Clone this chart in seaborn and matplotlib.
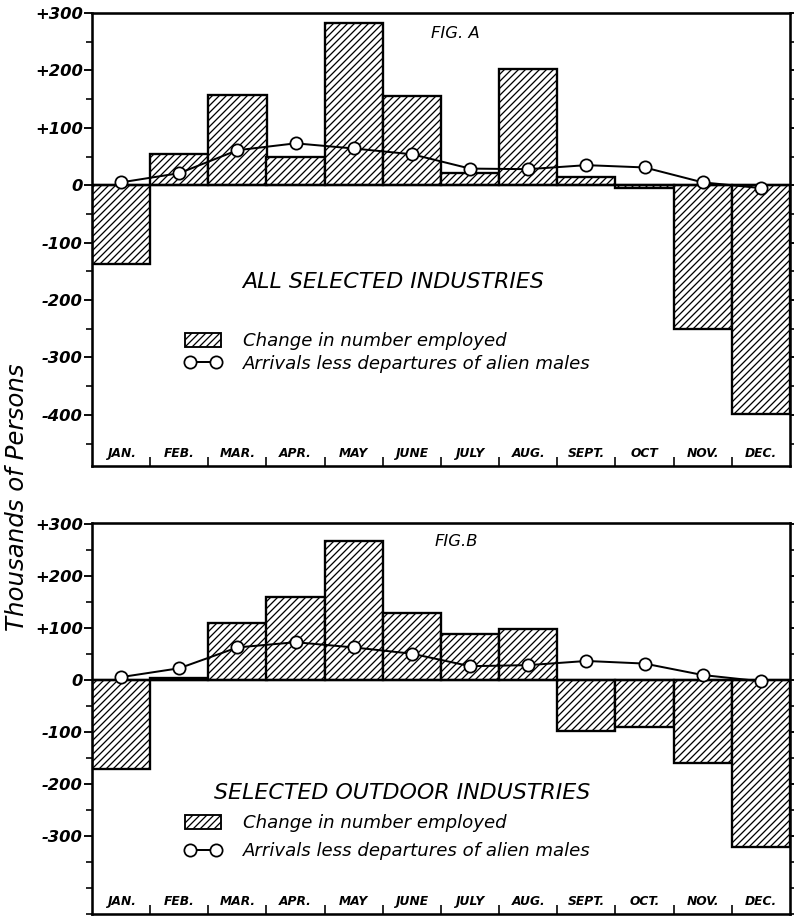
import numpy as np
import pandas as pd
import matplotlib
matplotlib.use("Agg")
import matplotlib.pyplot as plt
import seaborn as sns
from matplotlib.patches import Patch
from matplotlib.lines import Line2D

# ---------------- data ----------------
months_a = ["JAN.", "FEB.", "MAR.", "APR.", "MAY", "JUNE", "JULY", "AUG.", "SEPT.", "OCT", "NOV.", "DEC."]
months_b = ["JAN.", "FEB.", "MAR.", "APR.", "MAY", "JUNE", "JULY", "AUG.", "SEPT.", "OCT.", "NOV.", "DEC."]

employed_a = [-138, 54, 158, 50, 282, 155, 22, 202, 15, -5, -250, -398]
arrivals_a = [5, 21, 61, 73, 64, 54, 29, 28, 35, 31, 5, -5]

employed_b = [-171, 3, 109, 159, 267, 129, 88, 98, -98, -90, -160, -322]
arrivals_b = [5, 22, 62, 72, 62, 50, 26, 28, 36, 31, 9, -3]

yticks_a = [300, 200, 100, 0, -100, -200, -300, -400]
ylabels_a = ["+300", "+200", "+100", "0", "-100", "-200", "-300", "-400"]
yticks_b = [300, 200, 100, 0, -100, -200, -300]
ylabels_b = ["+300", "+200", "+100", "0", "-100", "-200", "-300"]

titles = ["ALL SELECTED INDUSTRIES", "SELECTED OUTDOOR INDUSTRIES"]
figs = ["FIG. A", "FIG.B"]
legend_labels = ["Change in number employed", "Arrivals less departures of alien males"]
ylabel = "Thousands of Persons"

# ---------------- style ----------------
DPI = 84
W, H = 795, 918
sns.set_style("white")
plt.rcParams["font.family"] = ["DejaVu Sans"]
plt.rcParams["hatch.linewidth"] = 1.1
plt.rcParams["hatch.color"] = "black"
for k in ["text.color", "axes.labelcolor", "xtick.color", "ytick.color", "axes.edgecolor"]:
    plt.rcParams[k] = "black"

fig = plt.figure(figsize=(W / DPI, H / DPI), dpi=DPI)


def fx(px):
    return px / W


def fy(py):
    return 1 - py / H


def make_axes(left, right, top, bottom):
    return fig.add_axes([fx(left), fy(bottom), fx(right) - fx(left), (bottom - top) / H])


ax_a = make_axes(92, 790, 13, 466)
ax_b = make_axes(92, 790, 523, 914)

panels = [
    (ax_a, months_a, employed_a, arrivals_a, yticks_a, ylabels_a, (-489, 299)),
    (ax_b, months_b, employed_b, arrivals_b, yticks_b, ylabels_b, (-372, 301)),
]

for ax, months, emp, arr, yt, yl, ylim in panels:
    df = pd.DataFrame({"month": months, "employed": emp, "arrivals": arr, "pos": np.arange(12)})
    sns.barplot(data=df, x="month", y="employed", color="white", edgecolor="black",
                linewidth=2.0, width=1.0, saturation=1, ax=ax, zorder=2)
    for p in ax.patches:
        p.set_hatch("////")
    ax.axhline(0, color="black", lw=2.0, zorder=3)
    sns.lineplot(data=df, x="pos", y="arrivals", color="black", lw=1.7, marker="o",
                 markersize=10.5, markerfacecolor="white", markeredgecolor="black",
                 markeredgewidth=1.5, ax=ax, zorder=5)
    ax.set_xlim(-0.5, 11.5)
    ax.set_ylim(*ylim)
    ax.set_xlabel("")
    ax.set_ylabel("")
    # y ticks
    ax.set_yticks(yt, labels=yl)
    ax.set_yticks(np.arange(-450, 301, 50), minor=True)
    ax.tick_params(axis="y", which="major", direction="out", length=7, width=1.6,
                   labelsize=14, pad=1, right=True, left=True)
    ax.tick_params(axis="y", which="minor", direction="out", length=5, width=1.4,
                   right=True, left=True)
    for lab in ax.get_yticklabels():
        lab.set_fontstyle("italic")
        lab.set_fontweight("bold")
    # month labels inside at bottom, separators between
    ax.set_xticks(np.arange(0.5, 11, 1.0))
    ax.set_xticklabels([])
    ax.set_xticks(np.arange(12), minor=True)
    ax.set_xticklabels(months, minor=True)
    ax.tick_params(axis="x", which="major", direction="in", length=8, width=1.4, bottom=True)
    ax.tick_params(axis="x", which="minor", length=0, pad=-16, labelsize=10.5)
    for lab in ax.get_xticklabels(minor=True):
        lab.set_fontstyle("italic")
        lab.set_fontweight("bold")
    for s in ax.spines.values():
        s.set_visible(True)
        s.set_linewidth(2.2)
        s.set_color("black")
    ax.grid(False)
    if ax.get_legend() is not None:
        ax.get_legend().remove()

# panel texts
fig.text(fx(455), fy(33), figs[0], ha="center", va="center", fontsize=14, style="italic")
fig.text(fx(456), fy(542), figs[1], ha="center", va="center", fontsize=14, style="italic")
fig.text(fx(393), fy(282), titles[0], ha="center", va="center", fontsize=19, style="italic")
fig.text(fx(402), fy(793), titles[1], ha="center", va="center", fontsize=19, style="italic")
fig.text(fx(17), fy(497), ylabel, ha="center", va="center", rotation=90, fontsize=21, style="italic")

# legends
def add_legend(ax, left_px, top_px, spacing):
    handles = [
        Patch(facecolor="white", edgecolor="black", hatch="////", linewidth=1.6),
        Line2D([0], [0], color="black", lw=1.7, marker="o", markersize=10.5,
               markerfacecolor="white", markeredgecolor="black", markeredgewidth=1.5),
    ]
    leg = ax.legend(handles, legend_labels, loc="upper left",
                    bbox_to_anchor=(fx(left_px), fy(top_px)), bbox_transform=fig.transFigure,
                    frameon=False, borderpad=0, borderaxespad=0, handlelength=2.0,
                    handleheight=0.8, handletextpad=1.2, labelspacing=spacing, numpoints=2,
                    prop={"size": 15.5, "style": "italic"})
    return leg

add_legend(ax_a, 185, 332, 0.26)
add_legend(ax_b, 185, 814, 0.58)

fig.savefig("out.png", dpi=DPI)
